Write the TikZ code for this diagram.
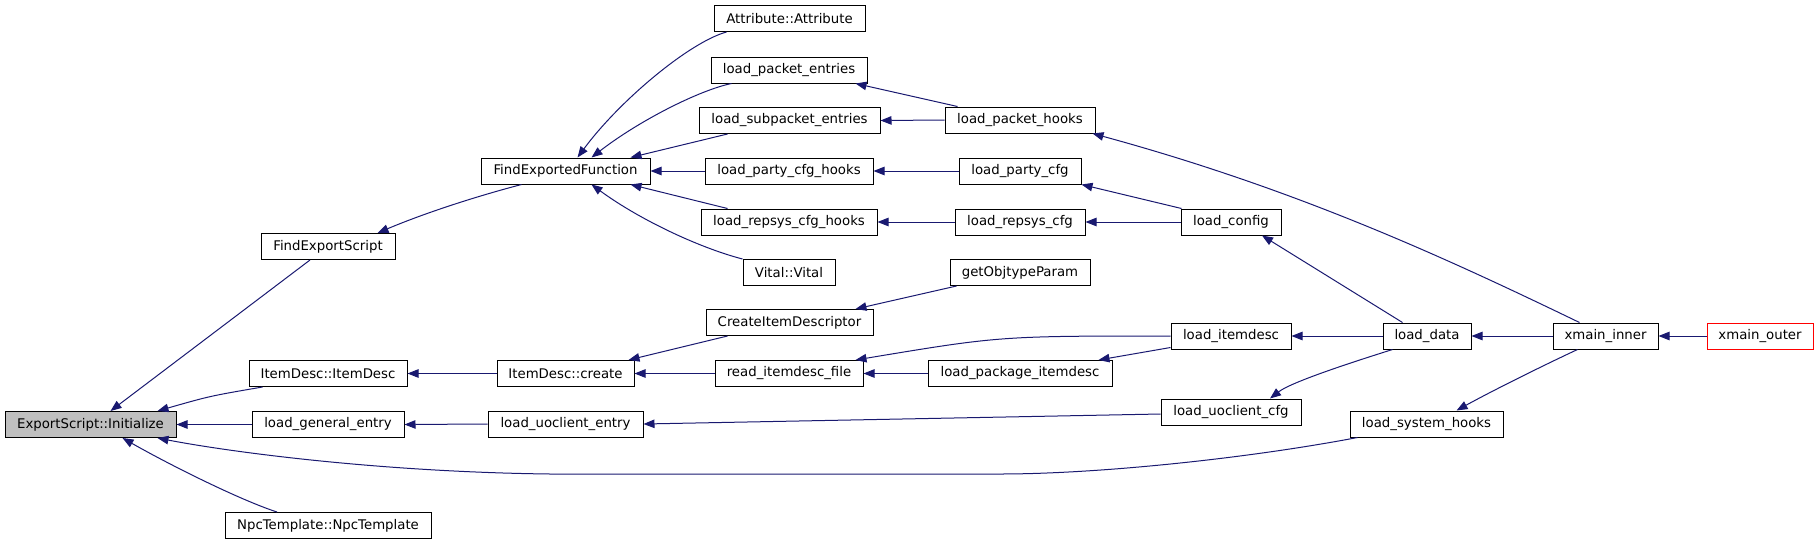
\documentclass[tikz,border=0pt]{standalone}
\usepackage{fontspec}
\setmainfont{DejaVu Sans}
\usetikzlibrary{arrows.meta}
\definecolor{edgeblue}{RGB}{25,25,112}
\definecolor{rootgray}{RGB}{191,191,191}
\begin{document}
\begin{tikzpicture}[x=1pt,y=-1pt,
  box/.style={draw=black,line width=1pt,fill=white,minimum height=26pt,inner sep=0pt,
    font=\fontsize{13.3}{16}\selectfont},
  edge/.style={draw=edgeblue,line width=1pt,-{Triangle[length=11pt,width=8.5pt]}}]
\useasboundingbox (0,0) rectangle (1819,544);
% column 1
\node[box,fill=rootgray,minimum width=171pt] (init) at (90.5,424.5) {ExportScript::Initialize};
% column 2
\node[box,minimum width=134pt] (fes) at (328,246.5) {FindExportScript};
\node[box,minimum width=158pt] (idid) at (328,373.5) {ItemDesc::ItemDesc};
\node[box,minimum width=152pt] (lge) at (328,424.5) {load\_general\_entry};
\node[box,minimum width=206pt] (npc) at (328,525.5) {NpcTemplate::NpcTemplate};
% column 3
\node[box,minimum width=169pt] (fef) at (565.5,171) {FindExportedFunction};
\node[box,minimum width=137pt] (idc) at (565.5,373.5) {ItemDesc::create};
\node[box,minimum width=155pt] (lue) at (565.5,424) {load\_uoclient\_entry};
% column 4
\node[box,minimum width=151pt] (attr) at (789.5,18.5) {Attribute::Attribute};
\node[box,minimum width=156pt] (lpe) at (789,70) {load\_packet\_entries};
\node[box,minimum width=181pt] (lspe) at (789.5,120.5) {load\_subpacket\_entries};
\node[box,minimum width=168pt] (lpch) at (789,171) {load\_party\_cfg\_hooks};
\node[box,minimum width=176pt] (lrch) at (789,222) {load\_repsys\_cfg\_hooks};
\node[box,minimum width=92pt] (vital) at (789,272.5) {Vital::Vital};
\node[box,minimum width=167pt] (cid) at (789.5,322.5) {CreateItemDescriptor};
\node[box,minimum width=148pt] (rif) at (789,373.5) {read\_itemdesc\_file};
% column 5
\node[box,minimum width=150pt] (lph) at (1020,120) {load\_packet\_hooks};
\node[box,minimum width=122pt] (lpc) at (1020,171) {load\_party\_cfg};
\node[box,minimum width=130pt] (lrc) at (1020,222) {load\_repsys\_cfg};
\node[box,minimum width=140pt] (gop) at (1020,272.5) {getObjtypeParam};
\node[box,minimum width=184pt] (lpid) at (1020,373.5) {load\_package\_itemdesc};
% column 6
\node[box,minimum width=100pt] (lcfg) at (1231,222) {load\_config};
\node[box,minimum width=120pt] (lid) at (1231,336) {load\_itemdesc};
\node[box,minimum width=140pt] (lucfg) at (1231,412) {load\_uoclient\_cfg};
% column 7
\node[box,minimum width=88pt] (ldata) at (1427,336) {load\_data};
\node[box,minimum width=153pt] (lsh) at (1426.5,424) {load\_system\_hooks};
% column 8
\node[box,minimum width=105pt] (xin) at (1605.5,336) {xmain\_inner};
\node[box,draw=red,minimum width=106pt] (xout) at (1760,336) {xmain\_outer};

% edges into ExportScript::Initialize
\draw[edge] ([xshift=-18pt]fes.south) -- ([xshift=20pt]init.north);
\draw[edge] ([xshift=14pt]idid.south west) .. controls (210,396) .. ([xshift=-19pt]init.north east);
\draw[edge] (lge.west) -- (init.east);
\draw[edge] ([xshift=8pt]lsh.south west) .. controls (1250,458) and (1100,474) .. (1000,474)
  -- (550,474) .. controls (380,472) and (230,452) .. ([xshift=-19pt]init.south east);
\draw[edge] ([xshift=-51pt]npc.north) .. controls (240,500) and (170,465) .. ([xshift=32pt]init.south);
% into FindExportScript
\draw[edge] ([xshift=41pt]fef.south west) .. controls (470,198) and (420,215) .. ([xshift=-18pt]fes.north east);
% into FindExportedFunction
\draw[edge] ([xshift=13pt]attr.south west) .. controls (690,42) and (620,100) .. ([xshift=12pt]fef.north);
\draw[edge] ([xshift=21pt]lpe.south west) .. controls (700,90) and (640,120) .. ([xshift=26pt]fef.north);
\draw[edge] ([xshift=29pt]lspe.south west) -- ([xshift=-20pt]fef.north east);
\draw[edge] (lpch.west) -- (fef.east);
\draw[edge] ([xshift=27pt]lrch.north west) -- ([xshift=-20pt]fef.south east);
\draw[edge] (vital.north west) .. controls (700,248) and (640,220) .. ([xshift=26pt]fef.south);
% into ItemDesc::ItemDesc and ItemDesc::create
\draw[edge] (idc.west) -- (idid.east);
\draw[edge] ([xshift=22pt]cid.south west) -- ([xshift=-6pt]idc.north east);
\draw[edge] (rif.west) -- (idc.east);
% into load_general_entry and load_uoclient_entry
\draw[edge] (lue.west) -- (lge.east);
\draw[edge] ([yshift=-2pt]lucfg.west) -- (lue.east);
% column 5 -> column 4
\draw[edge] ([xshift=13pt]lph.north west) -- ([xshift=-12pt]lpe.south east);
\draw[edge] (lph.west) -- (lspe.east);
\draw[edge] (lpc.west) -- (lpch.east);
\draw[edge] (lrc.west) -- (lrch.east);
\draw[edge] ([xshift=7pt]gop.south west) -- ([xshift=-18pt]cid.north east);
\draw[edge] (lid.west) .. controls (1000,336) .. ([xshift=-8pt]rif.north east);
\draw[edge] (lpid.west) -- (rif.east);
% column 6 -> column 5
\draw[edge] ([yshift=2pt]lid.south west) -- ([xshift=-14pt]lpid.north east);
\draw[edge] ([xshift=1pt]lcfg.north west) -- (lpc.south east);
\draw[edge] (lcfg.west) -- (lrc.east);
% load_data
\draw[edge] ([xshift=20pt]ldata.north west) -- ([xshift=31pt]lcfg.south);
\draw[edge] (ldata.west) -- (lid.east);
\draw[edge] ([xshift=10pt]ldata.south west) .. controls (1340,366) and (1290,383) .. ([xshift=39pt]lucfg.north);
% xmain_inner
\draw[edge] ([xshift=-26pt]xin.north) .. controls (1450,260) and (1300,190) .. ([xshift=-3pt]lph.south east);
\draw[edge] (xin.west) -- (ldata.east);
\draw[edge] ([xshift=-28pt]xin.south) .. controls (1540,367) and (1490,392) .. ([xshift=30pt]lsh.north);
\draw[edge] (xout.west) -- (xin.east);
\end{tikzpicture}
\end{document}
